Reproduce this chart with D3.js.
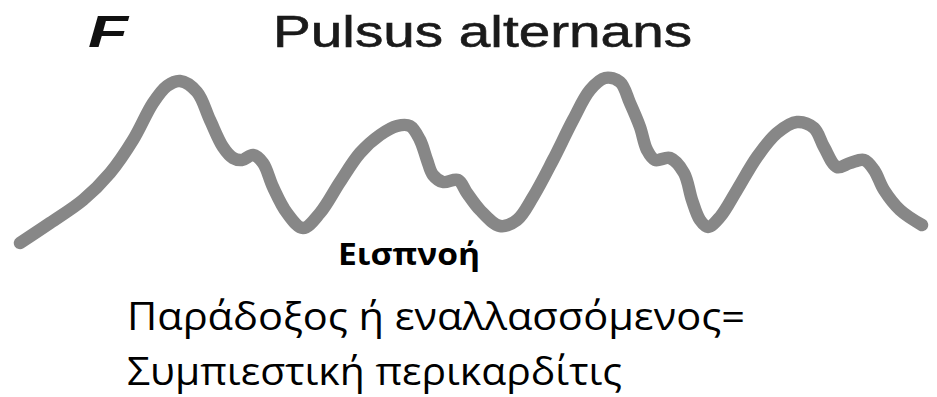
<!DOCTYPE html>
<html>
<head>
<meta charset="utf-8">
<script src="https://cdn.jsdelivr.net/npm/d3@7"></script>
<style>
html,body{margin:0;padding:0;background:#fff;}
</style>
</head>
<body>
<svg id="chart" width="937" height="397"></svg>
<script>
// Trace: time (px-like units) and pressure (arbitrary units, higher = up)
const time = [20,50,83,110,133,153,167,180,197,210,223,233,242,253,263,273,287,303,320,340,360,380,397,410,420,427,433,443,458,467,480,500,517,533,553,573,590,605,620,630,640,647,655,670,684,692,700,708,720,737,757,777,797,814,824,837,850,864,874,884,900,922];
const pressure = [57,77,100,127,160,197,214,219,208,180,153,142,140,145,137,113,87,72,87,118,147,165,174,174,160,140,125,118,120,107,90,74,80,103,140,180,210,222,218,197,173,150,140,142,127,100,80,73,83,110,143,167,178,172,153,133,137,140,130,110,90,75];
const titleLetter = "F";
const titleText = "Pulsus alternans";
const labelText = "Εισπνοή";
const captionLines = ["Παράδοξος ή εναλλασσόμενος=", "Συμπιεστική περικαρδίτις"];

const svg = d3.select("#chart");
const x = d3.scaleLinear().domain([0, 937]).range([0, 937]);
const y = d3.scaleLinear().domain([0, 300]).range([300, 0]);

const pts = time.map((t, i) => [t, pressure[i]]);
const line = d3.line().x(d => x(d[0])).y(d => y(d[1])).curve(d3.curveCatmullRom.alpha(0.5));

svg.append("path")
  .datum(pts)
  .attr("d", line)
  .attr("fill", "none")
  .attr("stroke", "#878787")
  .attr("stroke-width", 12.5)
  .attr("stroke-linecap", "round")
  .attr("stroke-linejoin", "round");

svg.append("text")
  .attr("x", 88).attr("y", 47)
  .attr("font-family", "Liberation Sans, Arial, sans-serif")
  .attr("font-weight", "bold").attr("font-style", "italic")
  .attr("font-size", 45)
  .attr("textLength", 40).attr("lengthAdjust", "spacingAndGlyphs")
  .attr("fill", "#111")
  .text(titleLetter);

svg.append("text")
  .attr("x", 273).attr("y", 47)
  .attr("font-family", "Liberation Sans, Arial, sans-serif")
  .attr("font-size", 45)
  .attr("textLength", 419).attr("lengthAdjust", "spacingAndGlyphs")
  .attr("fill", "#1a1a1a")
  .attr("stroke", "#1a1a1a").attr("stroke-width", 0.6)
  .text(titleText);

svg.append("text")
  .attr("x", 338).attr("y", 265)
  .attr("font-family", "Open Sans, Noto Sans, sans-serif")
  .attr("font-weight", "bold")
  .attr("font-size", 30)
  .attr("textLength", 142).attr("lengthAdjust", "spacingAndGlyphs")
  .attr("fill", "#000")
  .text(labelText);

const widths = [618, 495];
captionLines.forEach((s, i) => {
  svg.append("text")
    .attr("x", 127).attr("y", 330 + i * 55)
    .attr("font-family", "Open Sans, Noto Sans, sans-serif")
    .attr("font-size", 38)
    .attr("textLength", widths[i]).attr("lengthAdjust", "spacingAndGlyphs")
    .attr("fill", "#000")
    .text(s);
});
</script>
</body>
</html>
